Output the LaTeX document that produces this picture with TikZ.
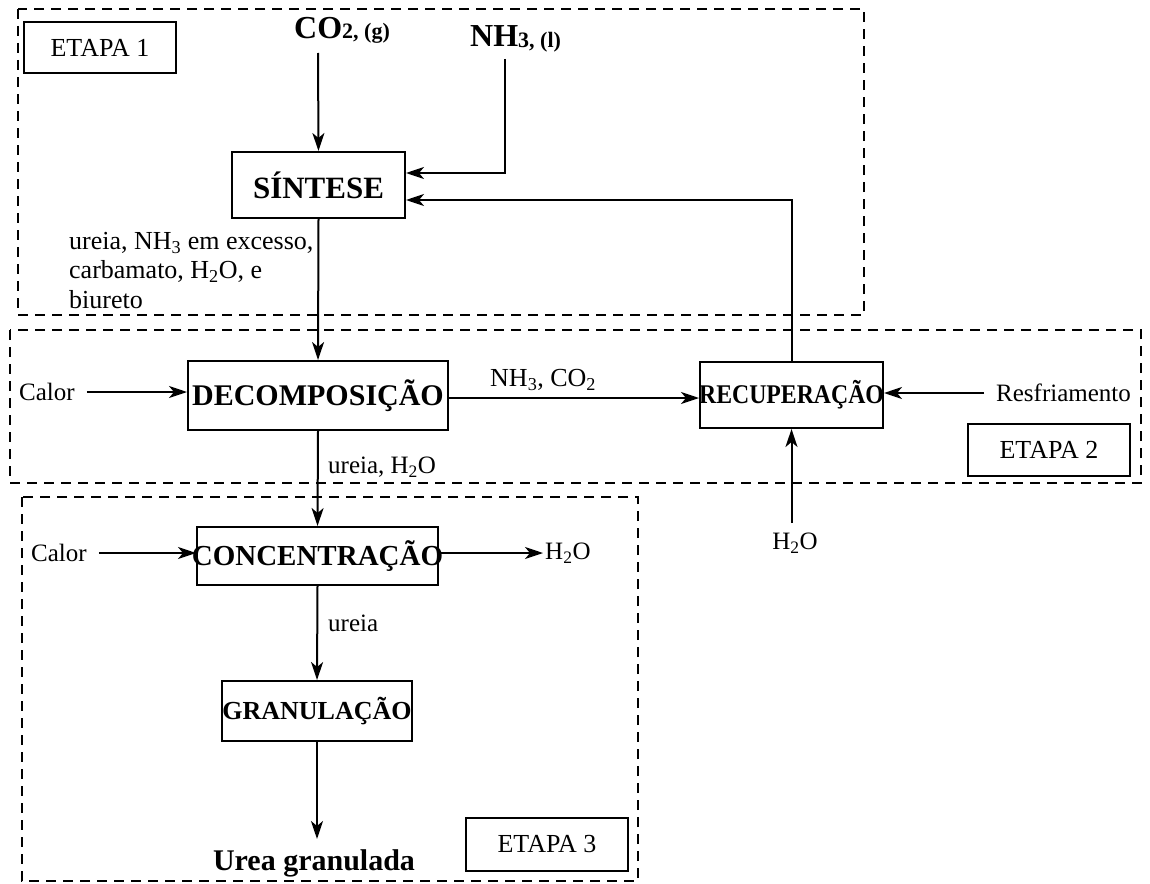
\documentclass[tikz,border=0pt]{standalone}
\usepackage{fontspec}
\setmainfont{Liberation Serif}
\usetikzlibrary{arrows.meta}

% font size in pt (1pt = 1 unit of the drawing)
\newcommand\fsz[1]{\fontsize{#1}{#1}\selectfont}

\begin{document}
\begin{tikzpicture}[x=1pt,y=-1pt,
  stagebox/.style={draw, line width=2.8pt, dash pattern=on 10pt off 7pt},
  stagetag/.style={draw, line width=2.4pt, inner sep=0, font=\fsz{26}},
  proc/.style={draw, line width=2pt, inner sep=0, font=\bfseries},
  lbl/.style={inner sep=0, font=\fsz{25}},
  arr/.style={line width=2pt, -{Stealth[length=18pt,width=12pt,inset=5pt]}}]

\useasboundingbox (0,0) rectangle (1150,883);
\fill[white] (0,0) rectangle (1150,883);

% the three stages
\draw[stagebox] (18,9) rectangle (864,315);
\draw[stagebox] (10,330) rectangle (1141,483);
\draw[stagebox] (22,497) rectangle (638,881);

\node[stagetag, minimum width=152pt, minimum height=51pt] (tag1) at (100,47.5) {ETAPA 1};
\node[stagetag, minimum width=162pt, minimum height=52pt] (tag2) at (1049,450) {ETAPA 2};
\node[stagetag, minimum width=162pt, minimum height=53pt] (tag3) at (547,844.5) {ETAPA 3};

% process units
\node[proc, minimum width=173pt, minimum height=66pt] (sintese) at (318.5,185)
  {\makebox[0pt]{\fsz{31}SÍNTESE}};
\node[proc, minimum width=260pt, minimum height=69pt] (decomp) at (318,395.5)
  {\makebox[0pt]{\fsz{30}DECOMPOSIÇÃO}};
\node[proc, minimum width=183pt, minimum height=66pt] (recup) at (791.5,395)
  {\makebox[0pt]{\fsz{27}\scalebox{0.88}[1]{RECUPERAÇÃO}}};
\node[proc, minimum width=241pt, minimum height=58pt] (conc) at (317.5,556)
  {\makebox[0pt]{\raisebox{4pt}{\fsz{29}CONCENTRAÇÃO}}};
\node[proc, minimum width=190pt, minimum height=60pt] (gran) at (317,711)
  {\makebox[0pt]{\fsz{26}GRANULAÇÃO}};

% feeds and products
\node[anchor=base west, inner sep=0, font=\bfseries] (co2) at (294,38)
  {\fsz{32}CO\raisebox{-1pt}{\fsz{22}2, (g)}};
\node[anchor=base west, inner sep=0, font=\bfseries] (nh3) at (470,47)
  {\fsz{32}NH\raisebox{-1pt}{\fsz{22}3, (l)}};
\coordinate (co2src) at (318,53);
\coordinate (nh3src) at (505,59);

\node[anchor=north west, align=left, inner sep=0, font=\fontsize{26}{29.5}\selectfont] (crude) at (69,232)
  {ureia, NH\textsubscript{3} em excesso,\\carbamato, H\textsubscript{2}O, e\\biureto};

\node[lbl, anchor=west] (calor1) at (19,392) {Calor};
\node[lbl, anchor=west, font=\fsz{26}] (gases) at (490,380) {NH\textsubscript{3}, CO\textsubscript{2}};
\node[lbl, anchor=west] (resfr) at (996,393) {Resfriamento};
\node[lbl, anchor=west] (ureiah2o) at (328,467) {ureia, H\textsubscript{2}O};
\node[lbl] (h2oin) at (795,543) {H\textsubscript{2}O};
\coordinate (h2osrc) at ([yshift=20pt]h2oin.center);

\node[lbl, anchor=west] (calor2) at (31,553) {Calor};
\node[lbl, anchor=west] (h2oout) at (545,553) {H\textsubscript{2}O};
\node[lbl, anchor=west] (ureia) at (328,623) {ureia};

\node[anchor=base, inner sep=0, inner ysep=10pt, font=\bfseries\fsz{30}] (urea) at (314,870)
  {Urea granulada};

% stage 1 connectors
\draw[arr] (co2src) -- (sintese.north);
\draw[arr] (nh3src) |- ([yshift=12pt]sintese.east);
\draw[arr] (recup.north) |- ([yshift=-15pt]sintese.east);
\draw[arr] (sintese.south) -- (decomp.north);

% stage 2 connectors
\draw[arr] ([xshift=12pt]calor1.east) -- (calor1.east -| decomp.west);
\draw[arr] ([yshift=-2.5pt]decomp.east) -- ([yshift=-2.5pt]decomp.east -| recup.west);
\draw[arr] ([xshift=-12pt]resfr.west) -- (resfr.west -| recup.east);
\draw[arr] (recup.south |- h2osrc) -- (recup.south);
\draw[arr] (decomp.south) -- (conc.north);

% stage 3 connectors
\draw[arr] ([xshift=12pt]calor2.east) -- (calor2.east -| conc.west);
\draw[arr] (h2oout.west -| conc.east) -- ([xshift=-2pt]h2oout.west);
\draw[arr] (conc.south) -- (gran.north);
\draw[arr] (gran.south) -- (gran.south |- urea.north);

\end{tikzpicture}
\end{document}
